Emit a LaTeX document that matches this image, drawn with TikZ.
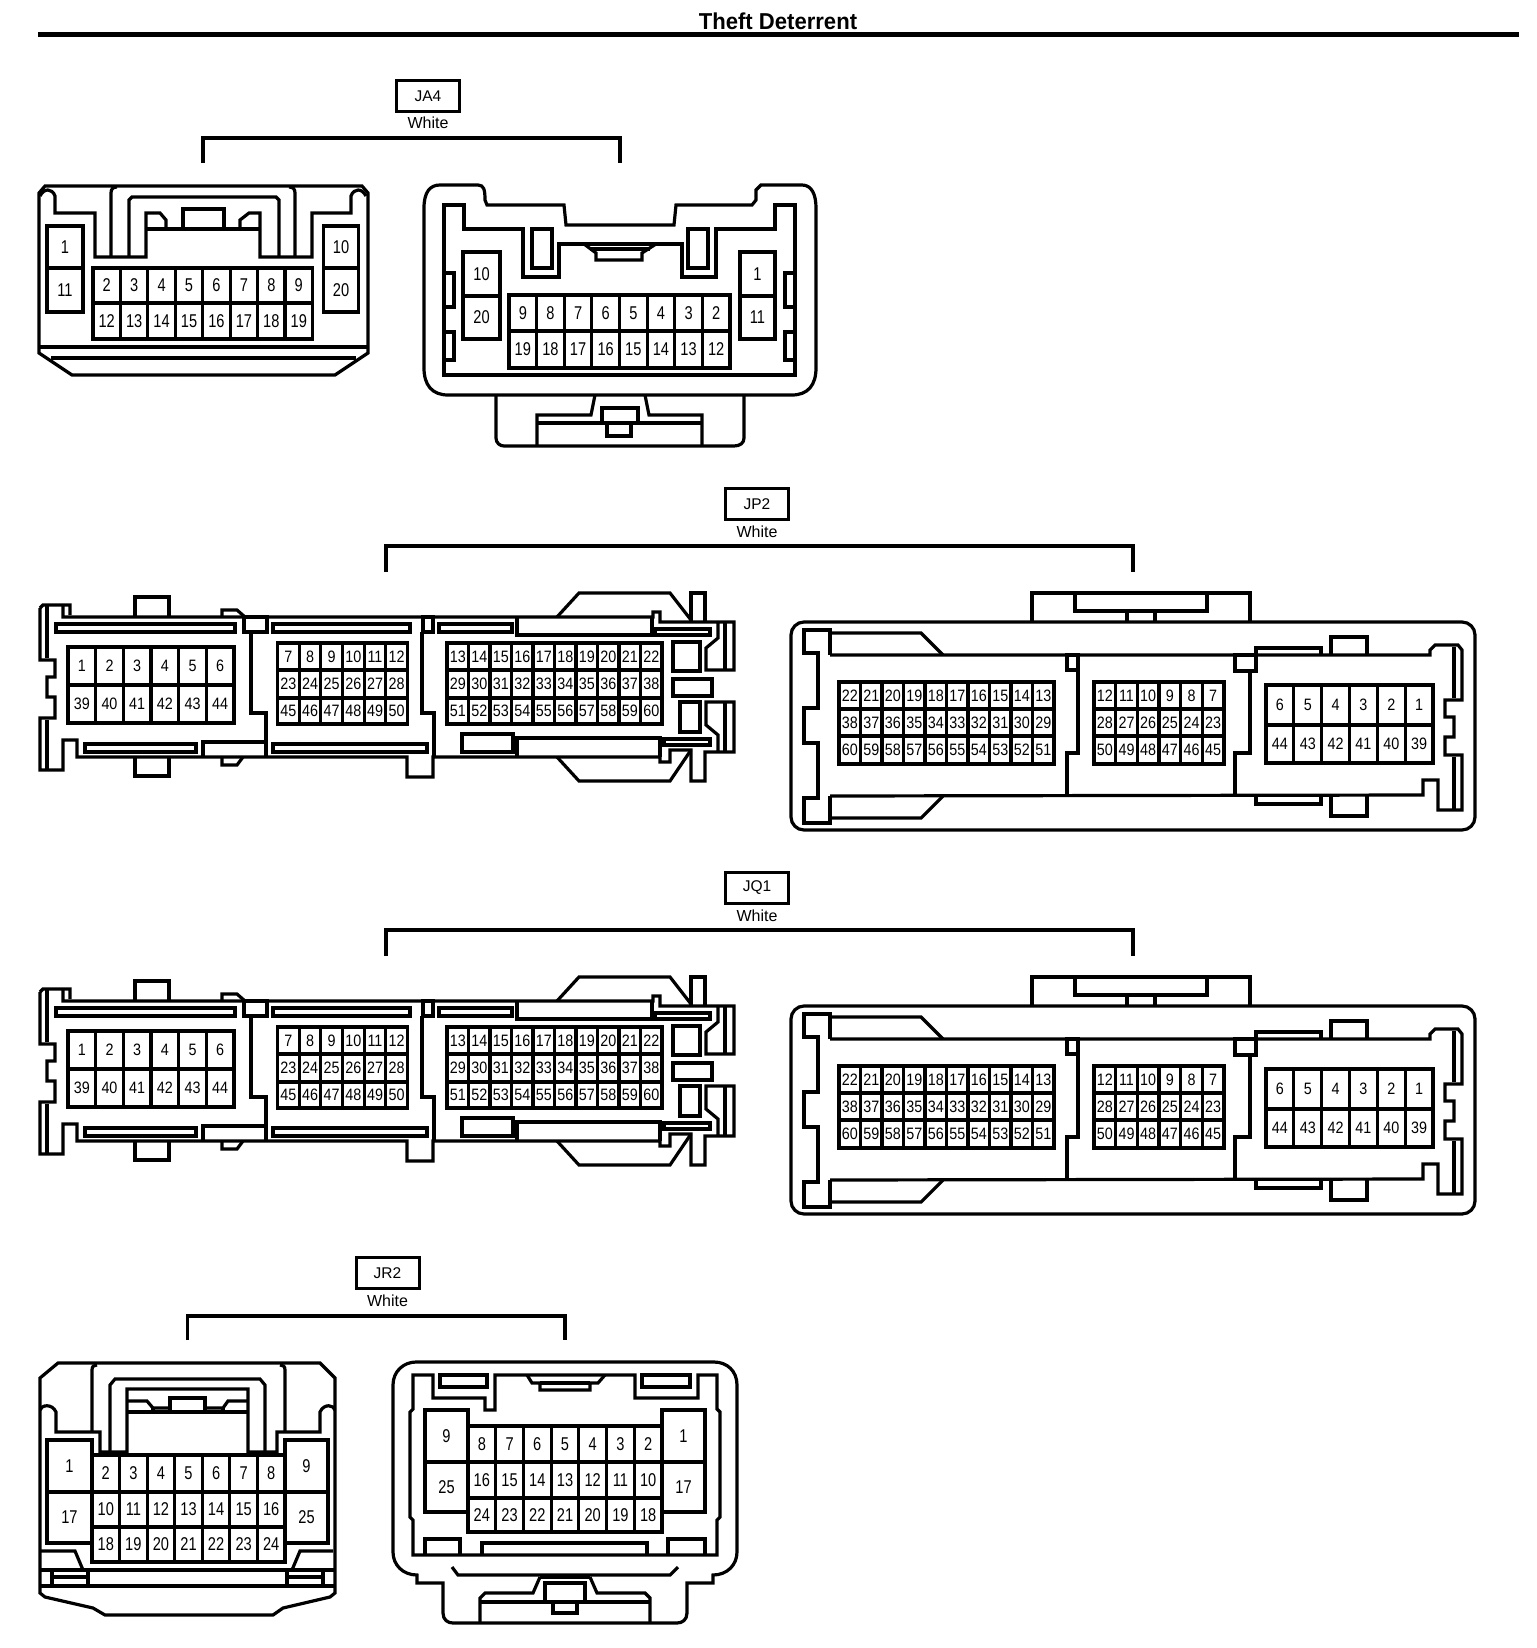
\documentclass[tikz,border=0pt]{standalone}
\usepackage{fontspec}
\setmainfont{Liberation Sans}
\newfontfamily\pinfont[FakeStretch=0.79]{Liberation Sans}
\newfontfamily\densefont[FakeStretch=0.87]{Liberation Sans}
\newfontfamily\titlefont[FakeStretch=0.96]{Liberation Sans}

% one row of pin cells: name, x0, x1, y0, y1, columns, labels
\newcommand{\pinrow}[7]{%
  \pgfmathsetmacro{\cellw}{(#3-#2)/#6}
  \foreach \n [count=\i] in {#7} {
    \pgfmathsetmacro{\cellx}{#2+(\i-0.5)*\cellw}
    \node[pincell,minimum width=\cellw pt,minimum height={(#5-#4)*1pt}] (#1\n) at (\cellx,{(#4+#5)/2}) {\n};
  }
}

% the long connector pair, drawn twice
\newcommand{\longpair}[1]{%
  % left housing
  \draw[wall] (40,608) -- (43,605) -- (70,605) -- (70,615);
  \draw[wall] (63,605) -- (63,617) -- (653,617) -- (653,612) -- (660,612) -- (660,622) -- (734,622) -- (734,670) -- (706,670) -- (706,648) -- (718,638) -- (718,622);
  \draw[wall] (135,617) -- (135,597) -- (169,597) -- (169,617);
  \draw[wall] (222,617) -- (222,610) -- (237,610) -- (245,617);
  \draw[wall] (557,617) -- (579,593) -- (670,593) -- (691,620);
  \draw[wall] (691,622) -- (691,593) -- (705,593) -- (705,622);
  \draw[wall] (40,608) -- (40,660) -- (55,660) -- (55,677) -- (47,677) -- (47,697) -- (55,697) -- (55,718) -- (40,718) -- (40,770) -- (63,770) -- (63,740) -- (77,740) -- (77,757) -- (407,757) -- (407,777) -- (433,777) -- (433,757) -- (660,757) -- (660,762) -- (670,762) -- (670,750) -- (691,750) -- (691,781) -- (705,781) -- (705,752) -- (734,752) -- (734,702) -- (706,702) -- (706,725) -- (718,735) -- (718,752);
  \draw[wall] (47,605) -- (47,658);
  \draw[wall] (47,720) -- (47,770);
  \draw[wall] (135,757) -- (135,776) -- (169,776) -- (169,757);
  \draw[wall] (222,757) -- (222,765) -- (237,765) -- (243,757);
  \draw[wall] (557,757) -- (579,781) -- (670,781) -- (691,750);
  \draw[wall] (725,622) -- (725,670);
  \draw[wall] (725,702) -- (725,752);
  \draw[wall] (56,624) rectangle (235,632);
  \draw[wall] (273,624) rectangle (410,632);
  \draw[wall] (439,624) rectangle (512,632);
  \draw[wall] (517,617) -- (517,635) -- (652,635) -- (652,617);
  \draw[wall] (85,744) rectangle (196,752);
  \draw[wall] (273,744) rectangle (427,752);
  \draw[wall] (462,734) rectangle (513,752);
  \draw[wall] (517,757) -- (517,738) -- (660,738) -- (660,757);
  \draw[wall] (664,739) rectangle (710,745);
  \draw[wall] (655,629) rectangle (710,635);
  \draw[wall] (673,642) rectangle (700,671);
  \draw[wall] (673,679) rectangle (712,696);
  \draw[wall] (680,702) rectangle (700,732);
  \draw[wall] (244,617) rectangle (267,632);
  \draw[wall] (251,632) -- (251,713) -- (266,713) -- (266,757);
  \draw[wall] (423,617) rectangle (433,632);
  \draw[wall] (422,632) -- (422,713) -- (434,713) -- (434,757);
  \draw[wall] (203,757) -- (203,742) -- (266,742);
  \pinrow{#1a}{68}{234}{647}{685}{6}{1,2,3,4,5,6}
  \pinrow{#1a}{68}{234}{685}{723}{6}{39,40,41,42,43,44}
  \pinrow{#1a}{277.5}{407.5}{643}{670}{6}{7,8,9,10,11,12}
  \pinrow{#1a}{277.5}{407.5}{670}{698}{6}{23,24,25,26,27,28}
  \pinrow{#1a}{277.5}{407.5}{698}{724}{6}{45,46,47,48,49,50}
  \pinrow{#1a}{447}{662}{643}{670}{10}{13,14,15,16,17,18,19,20,21,22}
  \pinrow{#1a}{447}{662}{670}{698}{10}{29,30,31,32,33,34,35,36,37,38}
  \pinrow{#1a}{447}{662}{698}{724}{10}{51,52,53,54,55,56,57,58,59,60}
  % right housing
  \draw[wall,rounded corners=13pt] (791,622) rectangle (1475,830);
  \draw[wall] (1032,622) -- (1032,593) -- (1250,593) -- (1250,622);
  \draw[wall] (1075,593) -- (1075,611) -- (1207,611) -- (1207,593);
  \draw[wall] (1127,611) -- (1127,622);
  \draw[wall] (1155,611) -- (1155,622);
  \draw[wall] (830,655) -- (830,630) -- (804,630) -- (804,653) -- (818,653) -- (818,708) -- (804,708) -- (804,743) -- (818,743) -- (818,798) -- (804,798) -- (804,823) -- (830,823) -- (830,796);
  \draw[wall] (830,633) -- (921,633) -- (943,655);
  \draw[wall] (830,655) -- (1430,655) -- (1430,650) -- (1435,645) -- (1458,645) -- (1462,650) -- (1462,700) -- (1445,700) -- (1445,717) -- (1454,717) -- (1454,737) -- (1445,737) -- (1445,755) -- (1462,755) -- (1462,810) -- (1438,810) -- (1438,780) -- (1423,780) -- (1423,795) -- (830,796);
  \draw[wall] (830,818) -- (921,818) -- (943,796);
  \draw[wall] (1454,647) -- (1454,698);
  \draw[wall] (1454,757) -- (1454,810);
  \draw[wall] (1331,655) -- (1331,637) -- (1367,637) -- (1367,655);
  \draw[wall] (1331,796) -- (1331,816) -- (1367,816) -- (1367,796);
  \draw[wall] (1256,655) -- (1256,648) -- (1321,648) -- (1321,655);
  \draw[wall] (1256,796) -- (1256,804) -- (1321,804) -- (1321,796);
  \draw[wall] (1067,655) rectangle (1078,670);
  \draw[wall] (1078,670) -- (1078,753) -- (1067,753) -- (1067,796);
  \draw[wall] (1235,655) rectangle (1256,671);
  \draw[wall] (1250,671) -- (1250,753) -- (1235,753) -- (1235,796);
  \pinrow{#1b}{839}{1054}{682}{709}{10}{22,21,20,19,18,17,16,15,14,13}
  \pinrow{#1b}{839}{1054}{709}{736}{10}{38,37,36,35,34,33,32,31,30,29}
  \pinrow{#1b}{839}{1054}{736}{764}{10}{60,59,58,57,56,55,54,53,52,51}
  \pinrow{#1b}{1094}{1224}{682}{709}{6}{12,11,10,9,8,7}
  \pinrow{#1b}{1094}{1224}{709}{736}{6}{28,27,26,25,24,23}
  \pinrow{#1b}{1094}{1224}{736}{764}{6}{50,49,48,47,46,45}
  \pinrow{#1b}{1266}{1433}{685}{725}{6}{6,5,4,3,2,1}
  \pinrow{#1b}{1266}{1433}{725}{763}{6}{44,43,42,41,40,39}
  % tag
  \node[tagbox] (#1) at (757,504) {#1};
  \node[tagtext] (#1white) at (757,532) {White};
  \coordinate (#1top) at (758,546);
  \coordinate (#1l) at (386,572);
  \coordinate (#1r) at (1133,572);
  \draw[bracket] (#1l) |- (#1top) -| (#1r);
}

\tikzset{
  wall/.style = {line width=3.2pt, line join=miter},
  bracket/.style = {line width=3.6pt},
  pincell/.style = {draw, line width=3.2pt, inner sep=0pt, font=\pinfont\fontsize{18.5}{18.5}\selectfont},
  densecell/.style = {draw, line width=3.2pt, inner sep=0pt, font=\densefont\fontsize{16.5}{16.5}\selectfont},
  tagbox/.style = {draw, line width=3pt, minimum width=63pt, minimum height=31pt, inner sep=0pt, font=\fontsize{15.5}{15.5}\selectfont},
  tagtext/.style = {inner sep=0pt, font=\fontsize{16}{16}\selectfont}
}

\begin{document}
\begin{tikzpicture}[x=1pt,y=-1pt]
  \useasboundingbox (0,0) rectangle (1536,1648);

  \node[inner sep=0pt,font=\titlefont\bfseries\fontsize{23}{23}\selectfont] (title) at (778,21) {Theft Deterrent};
  \coordinate (rulel) at (38,35);
  \coordinate (ruler) at (1519,35);
  \draw[line width=5pt] (rulel) -- (ruler);

  % JA4
  \node[tagbox] (JA4) at (428,96) {JA4};
  \node[tagtext] (JA4white) at (428,123) {White};
  \coordinate (JA4top) at (411,138);
  \coordinate (JA4l) at (203,163);
  \coordinate (JA4r) at (620,163);
  \draw[bracket] (JA4l) |- (JA4top) -| (JA4r);

  \draw[wall] (39,193) -- (45,186) -- (362,186) -- (368,193) -- (368,353) -- (335,375) -- (72,375) -- (39,353) -- cycle;
  \draw[wall] (39,347) -- (368,347);
  \draw[wall] (51,358) -- (356,358);
  \draw[wall] (40,196) .. controls (44,188) and (52,188) .. (55,196) -- (55,213) -- (95,213) -- (95,257) -- (146,257) -- (146,213) -- (160,213) -- (166,220) -- (166,229);
  \draw[wall] (111,257) -- (111,193) .. controls (111,189) and (113,187) .. (117,187);
  \draw[wall] (129,257) -- (129,200) -- (132,197) -- (276,197) -- (279,200) -- (279,257);
  \draw[wall] (146,229) -- (260,229);
  \draw[wall] (183,229) -- (183,209) -- (224,209) -- (224,229);
  \draw[wall] (240,229) -- (240,220) -- (249,213) -- (260,213) -- (260,257) -- (312,257) -- (312,213) -- (351,213) -- (351,196) .. controls (354,188) and (362,188) .. (366,196);
  \draw[wall] (295,257) -- (295,193) .. controls (295,189) and (293,187) .. (289,187);
  \pinrow{ja}{47}{83}{226}{268}{1}{1}
  \pinrow{ja}{47}{83}{268}{312}{1}{11}
  \pinrow{ja}{323.5}{358.5}{226}{268}{1}{10}
  \pinrow{ja}{323.5}{358.5}{268}{312}{1}{20}
  \pinrow{ja}{93}{312.5}{268}{303}{8}{2,3,4,5,6,7,8,9}
  \pinrow{ja}{93}{312.5}{303}{339}{8}{12,13,14,15,16,17,18,19}

  \draw[wall] (424,208) .. controls (424,192) and (430,185) .. (440,185) -- (478,185) .. controls (484,185) and (485,190) .. (485,200) -- (487,205) -- (564,205) -- (566,225) -- (674,225) -- (676,205) -- (752,205) -- (756,200) -- (756,190) -- (761,185) -- (802,185) .. controls (812,185) and (816,195) .. (816,208) -- (816,368) .. controls (816,385) and (808,395) .. (792,395) -- (448,395) .. controls (432,395) and (424,385) .. (424,368) -- cycle;
  \draw[wall] (444,375) -- (444,205) -- (464,205) -- (464,229) -- (523,229) -- (523,277) -- (559,277) -- (559,244) -- (682,244) -- (682,277) -- (716,277) -- (716,229) -- (775,229) -- (775,205) -- (795,205) -- (795,375) -- cycle;
  \draw[wall] (532,229) rectangle (552,268);
  \draw[wall] (688,229) rectangle (708,268);
  \draw[wall] (584,244) -- (596,253) -- (596,260) -- (642,260) -- (642,253) -- (656,244);
  \draw[wall] (590,249) -- (650,249);
  \draw[wall] (444,273) rectangle (454,307);
  \draw[wall] (444,332) rectangle (454,360);
  \draw[wall] (785,273) rectangle (795,307);
  \draw[wall] (785,332) rectangle (795,360);
  \draw[wall] (496,395) -- (496,438) .. controls (496,443) and (500,446) .. (504,446) -- (734,446) .. controls (740,446) and (744,443) .. (744,438) -- (744,395);
  \draw[wall] (537,446) -- (537,415) -- (591,415) -- (595,395);
  \draw[wall] (702,446) -- (702,415) -- (649,415) -- (645,395);
  \draw[wall] (537,423) -- (702,423);
  \draw[wall] (602,423) -- (602,408) -- (638,408) -- (638,423);
  \draw[wall] (607,423) rectangle (631,436);
  \pinrow{jb}{463}{500}{252}{296}{1}{10}
  \pinrow{jb}{463}{500}{296}{339}{1}{20}
  \pinrow{jb}{740}{775}{252}{296}{1}{1}
  \pinrow{jb}{740}{775}{296}{339}{1}{11}
  \pinrow{jb}{509}{730}{295}{331}{8}{9,8,7,6,5,4,3,2}
  \pinrow{jb}{509}{730}{331}{368}{8}{19,18,17,16,15,14,13,12}

  % JP2 and JQ1
  \begin{scope}[pincell/.style={densecell}]
    \longpair{JP2}
    \begin{scope}[yshift=-384pt]
      \longpair{JQ1}
    \end{scope}
  \end{scope}

  % JR2
  \node[tagbox] (JR2) at (387.5,1273) {JR2};
  \node[tagtext] (JR2white) at (387.5,1301) {White};
  \coordinate (JR2top) at (376,1316);
  \coordinate (JR2l) at (187.6,1340);
  \coordinate (JR2r) at (565,1340);
  \draw[bracket] (JR2l) |- (JR2top) -| (JR2r);

  \draw[wall] (58,1363) -- (320,1363) -- (335,1378) -- (335,1593) -- (330,1597) -- (283,1608) -- (273,1615) -- (105,1615) -- (93,1608) -- (45,1597) -- (40,1593) -- (40,1378) -- cycle;
  \draw[wall] (40,1586) -- (335,1586);
  \draw[wall] (40,1570) -- (335,1570);
  \draw[wall] (52,1570) -- (52,1586);
  \draw[wall] (88,1570) -- (88,1586);
  \draw[wall] (287,1570) -- (287,1586);
  \draw[wall] (323,1570) -- (323,1586);
  \draw[wall] (52,1577) -- (88,1577);
  \draw[wall] (287,1577) -- (323,1577);
  \draw[wall] (41,1551) -- (75,1551) -- (83,1570);
  \draw[wall] (333,1551) -- (300,1551) -- (292,1570);
  \draw[wall] (40,1410) .. controls (41,1405) and (52,1403) .. (56,1412) -- (56,1432) -- (100,1432) -- (100,1452) -- (127,1452) -- (127,1389) -- (248,1389) -- (248,1452) -- (277,1452) -- (277,1432) -- (320,1432) -- (320,1412) .. controls (324,1403) and (334,1405) .. (335,1410);
  \draw[wall] (92,1432) -- (92,1370) .. controls (92,1366) and (94,1365) .. (97,1365);
  \draw[wall] (285,1432) -- (285,1370) .. controls (285,1366) and (283,1365) .. (280,1365);
  \draw[wall] (110,1452) -- (110,1385) -- (115,1379) -- (260,1379) -- (265,1385) -- (265,1452);
  \draw[wall] (127,1401) -- (147,1401) -- (153,1408) -- (170,1408);
  \draw[wall] (153,1408) -- (153,1412);
  \draw[wall] (248,1401) -- (228,1401) -- (223,1408) -- (205,1408);
  \draw[wall] (223,1408) -- (223,1412);
  \draw[wall] (127,1412) -- (248,1412);
  \draw[wall] (170,1412) -- (170,1398) -- (205,1398) -- (205,1412);
  \pinrow{jc}{47}{92}{1440}{1492}{1}{1}
  \pinrow{jc}{47}{92}{1492}{1543}{1}{17}
  \pinrow{jc}{285}{328}{1440}{1492}{1}{9}
  \pinrow{jc}{285}{328}{1492}{1543}{1}{25}
  \pinrow{jc}{92}{285}{1455}{1492}{7}{2,3,4,5,6,7,8}
  \pinrow{jc}{92}{285}{1492}{1527}{7}{10,11,12,13,14,15,16}
  \pinrow{jc}{92}{285}{1527}{1562}{7}{18,19,20,21,22,23,24}

  \draw[wall] (393,1385) .. controls (393,1371) and (404,1362) .. (416,1362) -- (714,1362) .. controls (727,1362) and (737,1371) .. (737,1385) -- (737,1552) .. controls (737,1565) and (727,1575) .. (713,1575) -- (713,1583) -- (687,1583) -- (687,1613) .. controls (687,1620) and (682,1623) .. (677,1623) -- (453,1623) .. controls (448,1623) and (443,1620) .. (443,1613) -- (443,1583) -- (417,1583) -- (417,1575) .. controls (403,1575) and (393,1565) .. (393,1552) -- cycle;
  \draw[wall] (452,1567) -- (458,1575) -- (670,1575) -- (678,1567);
  \draw[wall] (540,1577) -- (590,1577);
  \draw[wall] (540,1577) -- (533,1593) -- (485,1593) -- (480,1598) -- (480,1623);
  \draw[wall] (590,1577) -- (597,1593) -- (645,1593) -- (650,1598) -- (650,1623);
  \draw[wall] (480,1602) -- (650,1602);
  \draw[wall] (545,1602) -- (545,1583) -- (585,1583) -- (585,1602);
  \draw[wall] (553,1602) rectangle (577,1613);
  \draw[wall] (413,1555) -- (413,1520) -- (410,1517) -- (410,1412) -- (413,1409) -- (413,1375) -- (433,1375) -- (433,1398) -- (485,1398) -- (485,1410) -- (495,1410) -- (495,1375) -- (635,1375) -- (635,1398) -- (698,1398) -- (698,1375) -- (717,1375) -- (717,1409) -- (720,1412) -- (720,1517) -- (717,1520) -- (717,1555) -- cycle;
  \draw[wall] (440,1375) rectangle (487,1387);
  \draw[wall] (642,1375) rectangle (690,1387);
  \draw[wall] (527,1375) -- (532,1383) -- (540,1383) -- (540,1390) -- (590,1390) -- (590,1383) -- (598,1383) -- (605,1375);
  \draw[wall] (540,1383) -- (590,1383);
  \draw[wall] (425,1555) -- (425,1539) -- (460,1539) -- (460,1555);
  \draw[wall] (482,1555) -- (482,1543) -- (647,1543) -- (647,1555);
  \draw[wall] (668,1555) -- (668,1539) -- (705,1539) -- (705,1555);
  \pinrow{jd}{425}{468}{1410}{1462}{1}{9}
  \pinrow{jd}{425}{468}{1462}{1512}{1}{25}
  \pinrow{jd}{662}{705}{1410}{1462}{1}{1}
  \pinrow{jd}{662}{705}{1462}{1512}{1}{17}
  \pinrow{jd}{468}{662}{1426}{1462}{7}{8,7,6,5,4,3,2}
  \pinrow{jd}{468}{662}{1462}{1498}{7}{16,15,14,13,12,11,10}
  \pinrow{jd}{468}{662}{1498}{1532}{7}{24,23,22,21,20,19,18}
\end{tikzpicture}
\end{document}
